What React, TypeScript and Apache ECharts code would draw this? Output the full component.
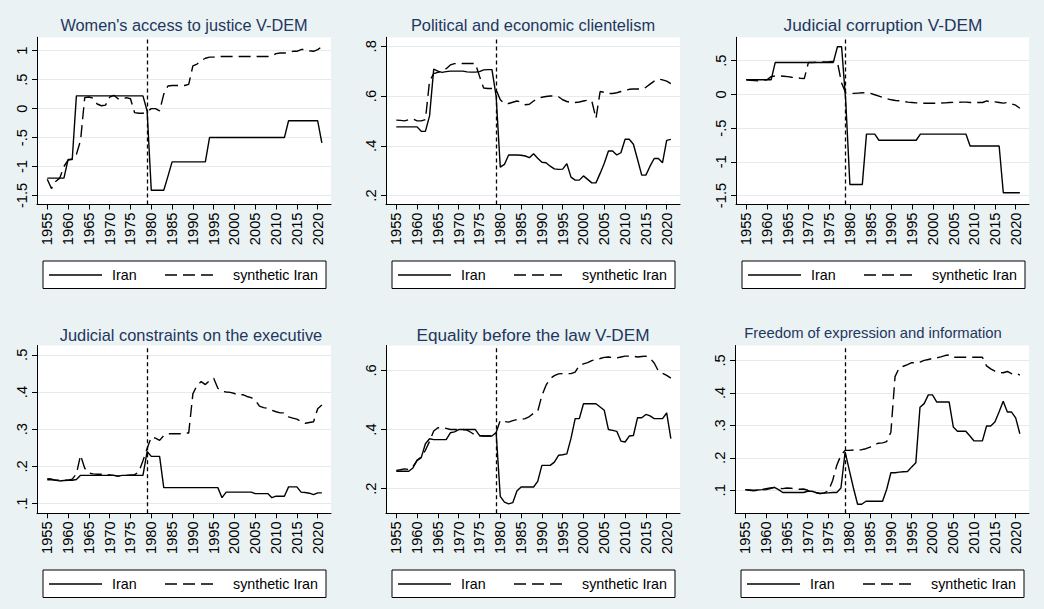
import React, { useEffect, useRef } from "react";
import * as echarts from "echarts";

// ---------- data ----------
const YEARS = Array.from({ length: 67 }, (_, i) => 1955 + i); // 1955..2021
const TREAT_YEAR = 1979;
const X_TICKS = [1955, 1960, 1965, 1970, 1975, 1980, 1985, 1990, 1995, 2000, 2005, 2010, 2015, 2020];
const SERIES_NAMES = ["Iran", "synthetic Iran"];

const TITLES = [
  "Women's access to justice V-DEM",
  "Political and economic clientelism",
  "Judicial corruption V-DEM",
  "Judicial constraints on the executive",
  "Equality before the law V-DEM",
  "Freedom of expression and information",
];

const WOMEN_IRAN = [
  -1.2, -1.2, -1.2, -1.2, -1.2, -0.88, -0.88, 0.22, 0.22, 0.22,
  0.22, 0.22, 0.22, 0.22, 0.22, 0.22, 0.22, 0.22, 0.22, 0.22,
  0.22, 0.22, 0.22, 0.22, -0.04, -1.41, -1.41, -1.41, -1.41, -1.17,
  -0.92, -0.92, -0.92, -0.92, -0.92, -0.92, -0.92, -0.92, -0.92, -0.5,
  -0.5, -0.5, -0.5, -0.5, -0.5, -0.5, -0.5, -0.5, -0.5, -0.5,
  -0.5, -0.5, -0.5, -0.5, -0.5, -0.5, -0.5, -0.5, -0.21, -0.21,
  -0.21, -0.21, -0.21, -0.21, -0.21, -0.21, -0.59,
];
const WOMEN_SYNTH = [
  -1.22, -1.38, -1.26, -1.2, -1.0, -0.89, -0.87, -0.79, -0.55, 0.19,
  0.2, 0.18, 0.08, 0.05, 0.06, 0.2, 0.23, 0.17, 0.16, 0.19,
  0.17, -0.07, -0.08, -0.08, -0.05, 0.0, 0.0, -0.04, 0.25, 0.39,
  0.4, 0.4, 0.4, 0.4, 0.42, 0.74, 0.77, 0.83, 0.87, 0.89,
  0.89, 0.9, 0.9, 0.9, 0.9, 0.9, 0.9, 0.9, 0.9, 0.9,
  0.9, 0.9, 0.9, 0.9, 0.91, 0.95, 0.96, 0.96, 0.97, 0.99,
  0.99, 1.02, 1.02, 1.0, 0.99, 1.02, 1.07,
];

const CLIENT_IRAN = [
  0.476, 0.476, 0.476, 0.476, 0.476, 0.476, 0.458, 0.458, 0.52, 0.708,
  0.7, 0.695, 0.698, 0.7, 0.7, 0.7, 0.7, 0.697, 0.696, 0.696,
  0.698, 0.705, 0.706, 0.706, 0.6, 0.314, 0.325, 0.363, 0.363, 0.363,
  0.362, 0.359, 0.352, 0.368, 0.35, 0.334, 0.332, 0.318, 0.307, 0.305,
  0.306, 0.328, 0.274, 0.262, 0.262, 0.279, 0.265, 0.251, 0.251, 0.289,
  0.33, 0.379, 0.379, 0.363, 0.372, 0.426, 0.426, 0.406, 0.345, 0.282,
  0.282, 0.318, 0.349, 0.349, 0.332, 0.422, 0.426,
];
const CLIENT_SYNTH = [
  0.503, 0.502, 0.5, 0.505, 0.508, 0.5, 0.5, 0.505, 0.66, 0.69,
  0.695, 0.7, 0.71, 0.725, 0.73, 0.731, 0.731, 0.731, 0.731, 0.731,
  0.68, 0.632, 0.63, 0.63, 0.625, 0.585, 0.57, 0.57, 0.575, 0.58,
  0.575, 0.565, 0.567, 0.58, 0.59, 0.595, 0.598, 0.6, 0.6, 0.597,
  0.585, 0.578, 0.574, 0.574, 0.576, 0.58, 0.583, 0.58, 0.51, 0.618,
  0.615, 0.61, 0.61, 0.613, 0.618, 0.622, 0.627, 0.628, 0.628, 0.628,
  0.635, 0.648, 0.66, 0.668, 0.665, 0.66, 0.65,
];

const JUDCORR_IRAN = [
  0.217, 0.217, 0.217, 0.217, 0.217, 0.217, 0.217, 0.475, 0.475, 0.475,
  0.475, 0.475, 0.475, 0.475, 0.475, 0.475, 0.475, 0.475, 0.475, 0.475,
  0.475, 0.475, 0.708, 0.708, -0.1, -1.336, -1.336, -1.336, -1.336, -0.59,
  -0.59, -0.59, -0.68, -0.68, -0.68, -0.68, -0.68, -0.68, -0.68, -0.68,
  -0.68, -0.68, -0.59, -0.59, -0.59, -0.59, -0.59, -0.59, -0.59, -0.59,
  -0.59, -0.59, -0.59, -0.59, -0.765, -0.765, -0.765, -0.765, -0.765, -0.765,
  -0.765, -0.765, -1.46, -1.46, -1.46, -1.46, -1.46,
];
const JUDCORR_SYNTH = [
  0.217, 0.21, 0.205, 0.2, 0.21, 0.217, 0.265, 0.275, 0.275, 0.27,
  0.265, 0.255, 0.25, 0.24, 0.235, 0.475, 0.475, 0.478, 0.48, 0.482,
  0.485, 0.49, 0.475, 0.17, 0.02, 0.015, 0.015, 0.02, 0.025, 0.02,
  0.015, -0.005, -0.025, -0.045, -0.065, -0.08, -0.09, -0.095, -0.105, -0.115,
  -0.12, -0.125, -0.13, -0.13, -0.13, -0.13, -0.13, -0.128, -0.125, -0.12,
  -0.118, -0.116, -0.115, -0.115, -0.12, -0.12, -0.12, -0.12, -0.095, -0.115,
  -0.11, -0.12, -0.13, -0.12, -0.14, -0.16, -0.205,
];

const JUDCON_IRAN = [
  0.164, 0.164, 0.163, 0.161, 0.162, 0.163, 0.163, 0.165, 0.176, 0.176,
  0.176, 0.176, 0.176, 0.176, 0.176, 0.176, 0.176, 0.174, 0.176, 0.176,
  0.176, 0.176, 0.176, 0.176, 0.24, 0.227, 0.227, 0.227, 0.143, 0.143,
  0.143, 0.143, 0.143, 0.143, 0.143, 0.143, 0.143, 0.143, 0.143, 0.143,
  0.143, 0.143, 0.116, 0.131, 0.131, 0.131, 0.131, 0.131, 0.131, 0.131,
  0.127, 0.127, 0.127, 0.127, 0.116, 0.12, 0.12, 0.12, 0.145, 0.145,
  0.145, 0.131, 0.13, 0.128, 0.124, 0.129, 0.129,
];
const JUDCON_SYNTH = [
  0.167, 0.166, 0.163, 0.163, 0.163, 0.163, 0.166, 0.18, 0.23, 0.195,
  0.182, 0.18, 0.179, 0.179, 0.178, 0.177, 0.176, 0.174, 0.175, 0.176,
  0.177, 0.178, 0.185, 0.215, 0.248, 0.279, 0.276, 0.27, 0.283, 0.288,
  0.288, 0.288, 0.288, 0.29, 0.29, 0.395, 0.418, 0.428, 0.42, 0.431,
  0.437, 0.41, 0.402, 0.4, 0.399, 0.396, 0.391, 0.393, 0.388, 0.385,
  0.378, 0.362, 0.358, 0.356, 0.351, 0.347, 0.344, 0.344, 0.333, 0.33,
  0.327, 0.321, 0.316, 0.318, 0.32, 0.355, 0.365,
];

const EQUAL_IRAN = [
  0.259, 0.259, 0.259, 0.259, 0.27, 0.296, 0.305, 0.352, 0.369, 0.366,
  0.366, 0.366, 0.366, 0.389, 0.392, 0.4, 0.4, 0.4, 0.4, 0.4,
  0.38, 0.378, 0.378, 0.378, 0.39, 0.174, 0.155, 0.149, 0.153, 0.192,
  0.206, 0.206, 0.206, 0.206, 0.225, 0.279, 0.279, 0.279, 0.29, 0.313,
  0.315, 0.318, 0.37, 0.437, 0.437, 0.487, 0.487, 0.487, 0.487, 0.476,
  0.465, 0.4, 0.397, 0.394, 0.361, 0.358, 0.378, 0.38, 0.44, 0.44,
  0.451, 0.446, 0.437, 0.437, 0.437, 0.456, 0.369,
];
const EQUAL_SYNTH = [
  0.262, 0.264, 0.267, 0.265, 0.275, 0.296, 0.307, 0.33, 0.36, 0.395,
  0.406, 0.406, 0.404, 0.4, 0.4, 0.4, 0.4, 0.398, 0.39, 0.38,
  0.379, 0.378, 0.378, 0.378, 0.39, 0.431, 0.427, 0.425, 0.43, 0.434,
  0.434, 0.437, 0.444, 0.455, 0.462, 0.515, 0.55, 0.572, 0.582, 0.588,
  0.589, 0.589, 0.589, 0.594, 0.617, 0.622, 0.626, 0.633, 0.637, 0.64,
  0.644, 0.645, 0.643, 0.642, 0.645, 0.648, 0.648, 0.648, 0.645, 0.647,
  0.648, 0.641, 0.625, 0.598, 0.59, 0.583, 0.574,
];

const FREE_IRAN = [
  0.102, 0.101, 0.1, 0.101, 0.102, 0.105, 0.107, 0.109, 0.102, 0.093,
  0.093, 0.093, 0.093, 0.093, 0.093, 0.097, 0.097, 0.093, 0.09, 0.091,
  0.092, 0.093, 0.093, 0.107, 0.218, 0.162, 0.107, 0.057, 0.057, 0.066,
  0.066, 0.066, 0.066, 0.066, 0.103, 0.154, 0.154, 0.156, 0.157, 0.158,
  0.172, 0.185, 0.356, 0.367, 0.394, 0.394, 0.372, 0.372, 0.372, 0.372,
  0.295, 0.282, 0.282, 0.282, 0.267, 0.252, 0.252, 0.252, 0.298, 0.298,
  0.31, 0.341, 0.374, 0.341, 0.341, 0.323, 0.274,
];
const FREE_SYNTH = [
  0.102, 0.1, 0.098, 0.1, 0.101, 0.102, 0.105, 0.109, 0.106, 0.105,
  0.107, 0.106, 0.105, 0.103, 0.104, 0.1, 0.093, 0.092, 0.09, 0.092,
  0.098, 0.13, 0.177, 0.208, 0.223, 0.223, 0.224, 0.224, 0.225, 0.228,
  0.233, 0.24, 0.245, 0.246, 0.25, 0.279, 0.45, 0.477, 0.482, 0.487,
  0.493, 0.493, 0.495, 0.5, 0.503, 0.506, 0.508, 0.511, 0.515, 0.517,
  0.51, 0.51, 0.51, 0.51, 0.51, 0.51, 0.51, 0.51, 0.483, 0.474,
  0.467, 0.463, 0.462, 0.466, 0.459, 0.461, 0.455,
];

const IRAN_VALUES = [WOMEN_IRAN, CLIENT_IRAN, JUDCORR_IRAN, JUDCON_IRAN, EQUAL_IRAN, FREE_IRAN];
const SYNTH_VALUES = [WOMEN_SYNTH, CLIENT_SYNTH, JUDCORR_SYNTH, JUDCON_SYNTH, EQUAL_SYNTH, FREE_SYNTH];

const Y_TICKS = [
  [-1.5, -1, -0.5, 0, 0.5, 1],
  [0.2, 0.4, 0.6, 0.8],
  [-1.5, -1, -0.5, 0, 0.5],
  [0.1, 0.2, 0.3, 0.4, 0.5],
  [0.2, 0.4, 0.6],
  [0.1, 0.2, 0.3, 0.4, 0.5],
];
const Y_RANGES = [
  [-1.656, 1.232],
  [0.164, 0.836],
  [-1.634, 0.848],
  [0.074, 0.525],
  [0.117, 0.684],
  [0.029, 0.546],
];

// ---------- layout / style ----------
const FONT = "'Liberation Sans', Arial, Helvetica, sans-serif";
const BG = "#EAF2F3";
const GRID_COLOR = "#E2ECEE";
const TITLE_COLOR = "#1f3660";
const X_MIN = 1952.53;
const X_MAX = 2023.2;
const SYNTH_DASH = [12, 6];

const PANELS = [
  { left: 37, top: 37.3, width: 294, height: 167.2, titleX: 184, titleY: 25, titleSize: 16.3, legendTop: 261 },
  { left: 386, top: 37.3, width: 294, height: 167.2, titleX: 533, titleY: 25, titleSize: 16.4, legendTop: 261 },
  { left: 736, top: 37.3, width: 293, height: 167.2, titleX: 883, titleY: 25, titleSize: 17.3, legendTop: 261 },
  { left: 37, top: 345.5, width: 294, height: 167.8, titleX: 191, titleY: 334.5, titleSize: 16.4, legendTop: 570 },
  { left: 386, top: 345.5, width: 294, height: 167.8, titleX: 533, titleY: 334.5, titleSize: 17.2, legendTop: 570 },
  { left: 735, top: 345.5, width: 294, height: 167.8, titleX: 873, titleY: 332.5, titleSize: 14.8, legendTop: 570 },
];

const fmtStata = (v: number) => {
  const r = Math.round(v * 1000) / 1000;
  return String(r).replace(/^(-?)0\./, "$1.");
};

function buildOption() {
  const grid: any[] = [];
  const xAxis: any[] = [];
  const yAxis: any[] = [];
  const series: any[] = [];
  const graphic: any[] = [];

  PANELS.forEach((p, i) => {
    grid.push({
      left: p.left,
      top: p.top,
      width: p.width,
      height: p.height,
      show: true,
      backgroundColor: "#ffffff",
      borderWidth: 0,
      containLabel: false,
      outerBoundsMode: "none",
    });
    xAxis.push({
      type: "value",
      gridIndex: i,
      min: X_MIN,
      max: X_MAX,
      axisLine: { show: true, onZero: false, lineStyle: { color: "#000", width: 1 } },
      axisTick: { show: true, customValues: X_TICKS, length: 5, lineStyle: { color: "#000", width: 1 } },
      axisLabel: {
        customValues: X_TICKS,
        rotate: 90,
        margin: 8,
        fontSize: 14.7,
        color: "#000",
        fontFamily: FONT,
        formatter: (v: number) => String(Math.round(v)),
      },
      splitLine: { show: false },
    });
    yAxis.push({
      type: "value",
      gridIndex: i,
      min: Y_RANGES[i][0],
      max: Y_RANGES[i][1],
      axisLine: { show: true, onZero: false, lineStyle: { color: "#000", width: 1 } },
      axisTick: { show: true, customValues: Y_TICKS[i], length: 5, lineStyle: { color: "#000", width: 1 } },
      axisLabel: {
        customValues: Y_TICKS[i],
        rotate: 90,
        margin: 8,
        fontSize: 14.7,
        color: "#000",
        fontFamily: FONT,
        formatter: fmtStata,
      },
      splitLine: { show: true, lineStyle: { color: GRID_COLOR, width: 1.2 } },
    });

    series.push({
      name: SERIES_NAMES[0],
      type: "line",
      xAxisIndex: i,
      yAxisIndex: i,
      data: YEARS.map((y, k) => [y, IRAN_VALUES[i][k]]),
      symbol: "none",
      showSymbol: false,
      lineStyle: { color: "#000", width: 1.4, type: "solid" },
      z: 3,
      markLine: {
        silent: true,
        symbol: ["none", "none"],
        label: { show: false },
        lineStyle: { color: "#000", type: [4, 3], width: 1.3 },
        data: [{ xAxis: TREAT_YEAR }],
      },
    });
    series.push({
      name: SERIES_NAMES[1],
      type: "line",
      xAxisIndex: i,
      yAxisIndex: i,
      data: YEARS.map((y, k) => [y, SYNTH_VALUES[i][k]]),
      symbol: "none",
      showSymbol: false,
      lineStyle: { color: "#000", width: 1.4, type: SYNTH_DASH },
      z: 3,
    });

    // title
    graphic.push({
      type: "text",
      x: p.titleX,
      y: p.titleY,
      style: {
        text: TITLES[i],
        fill: TITLE_COLOR,
        font: `${p.titleSize}px ${FONT}`,
        align: "center",
        verticalAlign: "middle",
      },
    });

    // legend
    const bx = p.left + 6;
    const by = p.legendTop;
    const cy = by + 14;
    graphic.push({
      type: "rect",
      shape: { x: bx, y: by, width: 283, height: 27.5 },
      style: { fill: "#ffffff", stroke: "#000", lineWidth: 1 },
    });
    graphic.push({
      type: "line",
      shape: { x1: bx + 6, y1: cy, x2: bx + 59, y2: cy },
      style: { stroke: "#000", lineWidth: 1.4 },
    });
    graphic.push({
      type: "text",
      x: bx + 69,
      y: cy,
      style: {
        text: SERIES_NAMES[0],
        fill: "#000",
        font: `14.3px ${FONT}`,
        align: "left",
        verticalAlign: "middle",
      },
    });
    graphic.push({
      type: "line",
      shape: { x1: bx + 122, y1: cy, x2: bx + 176, y2: cy },
      style: { stroke: "#000", lineWidth: 1.4, lineDash: SYNTH_DASH },
    });
    graphic.push({
      type: "text",
      x: bx + 190,
      y: cy,
      style: {
        text: SERIES_NAMES[1],
        fill: "#000",
        font: `14.3px ${FONT}`,
        align: "left",
        verticalAlign: "middle",
      },
    });
  });

  return {
    animation: false,
    backgroundColor: BG,
    textStyle: { fontFamily: FONT },
    grid,
    xAxis,
    yAxis,
    series,
    graphic,
  };
}

export default function App() {
  const ref = useRef<HTMLDivElement>(null);
  useEffect(() => {
    if (!ref.current) return;
    const chart = echarts.init(ref.current, undefined, { renderer: "svg" });
    chart.setOption(buildOption() as any);
    return () => chart.dispose();
  }, []);
  return (
    <div
      ref={ref}
      style={{ position: "fixed", left: 0, top: 0, width: 1044, height: 609, background: BG }}
    />
  );
}
